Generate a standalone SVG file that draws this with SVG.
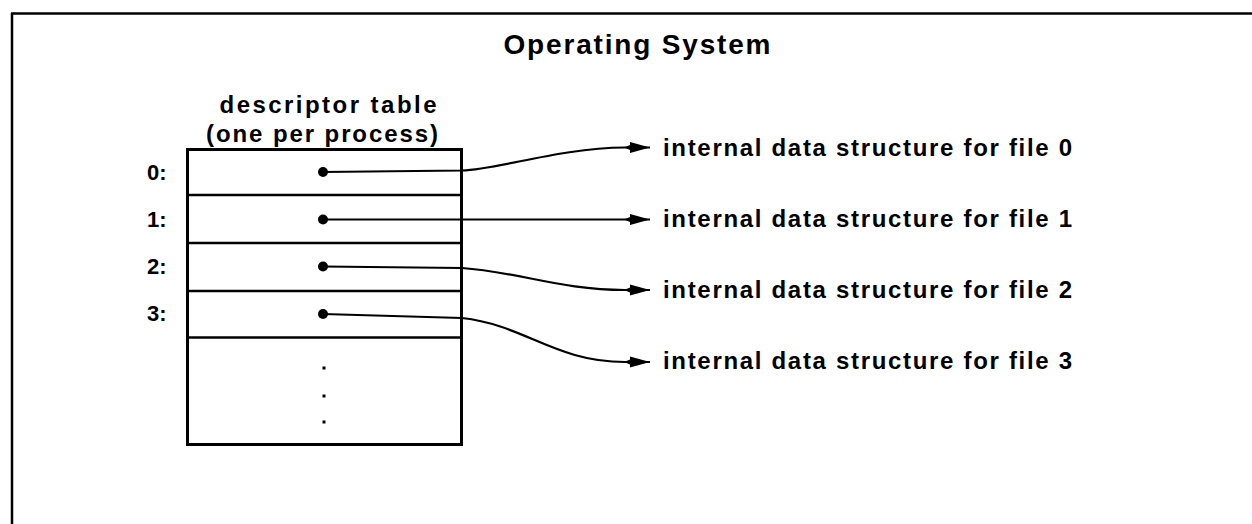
<svg xmlns="http://www.w3.org/2000/svg" width="1252" height="524" viewBox="0 0 1252 524">
<style>
text{font-family:"Liberation Sans",Arial,sans-serif;font-weight:bold;fill:#000}
.lbl{font-size:24px}
.idx{font-size:22px}
.conn{fill:none;stroke:#000;stroke-width:2.2}
.row{stroke:#000;stroke-width:2.5}
</style>
<defs>
<marker id="ah" markerUnits="userSpaceOnUse" viewBox="0 0 26 14" refX="26" refY="7" markerWidth="26" markerHeight="14" orient="auto">
<path d="M0,7 L6,4.5 L26,7 L6,9.5 Z M6,1.5 L26,7 L6,12.5 Z" fill="#000"/>
</marker>
</defs>
<rect width="1252" height="524" fill="#fff"/>
<g id="frame">
<line x1="11" y1="13.5" x2="1252" y2="13.5" stroke="#000" stroke-width="2.5"/>
<line x1="12" y1="13" x2="12" y2="524" stroke="#000" stroke-width="2.5"/>
<text x="637" y="54" text-anchor="middle" font-size="28" textLength="267" lengthAdjust="spacing">Operating System</text>
</g>
<g id="descriptor-table">
<text class="lbl" x="328" y="113" text-anchor="middle" textLength="217" lengthAdjust="spacing">descriptor table</text>
<text class="lbl" x="322" y="142" text-anchor="middle" textLength="232" lengthAdjust="spacing">(one per process)</text>
<rect x="187.5" y="149.5" width="274" height="295" fill="none" stroke="#000" stroke-width="3"/>
<line class="row" x1="187" y1="195" x2="462" y2="195"/>
<line class="row" x1="187" y1="243" x2="462" y2="243" stroke-width="1.8"/>
<line class="row" x1="187" y1="291" x2="462" y2="291"/>
<line class="row" x1="187" y1="337.5" x2="462" y2="337.5"/>
<text class="idx" x="147" y="180">0:</text>
<text class="idx" x="147" y="227">1:</text>
<text class="idx" x="147" y="274">2:</text>
<text class="idx" x="147" y="321">3:</text>
<circle cx="323" cy="172" r="5"/>
<circle cx="323" cy="219.5" r="5"/>
<circle cx="323" cy="266.5" r="5"/>
<circle cx="323" cy="314" r="5"/>
<rect x="322.5" y="366.5" width="3" height="3"/>
<rect x="322.5" y="394.5" width="3" height="3"/>
<rect x="322.5" y="420.5" width="3" height="3"/>
</g>
<g id="file0"><text class="lbl" x="663" y="156" textLength="409" lengthAdjust="spacing">internal data structure for file 0</text></g>
<g id="file1"><text class="lbl" x="663" y="227" textLength="409" lengthAdjust="spacing">internal data structure for file 1</text></g>
<g id="file2"><text class="lbl" x="663" y="298" textLength="409" lengthAdjust="spacing">internal data structure for file 2</text></g>
<g id="file3"><text class="lbl" x="663" y="369" textLength="409" lengthAdjust="spacing">internal data structure for file 3</text></g>
<g id="connectors">
<path class="conn" d="M323,172 L462,170.5 C500,169 560,148 625,147.5 L650,147.5" marker-end="url(#ah)"/>
<path class="conn" d="M323,219.5 L650,219.5" marker-end="url(#ah)"/>
<path class="conn" d="M323,266.5 L462,268 C520,272 560,290 625,290 L650,290" marker-end="url(#ah)"/>
<path class="conn" d="M323,314 L462,318 C525,325 555,362 625,362 L650,362" marker-end="url(#ah)"/>
</g>
</svg>
